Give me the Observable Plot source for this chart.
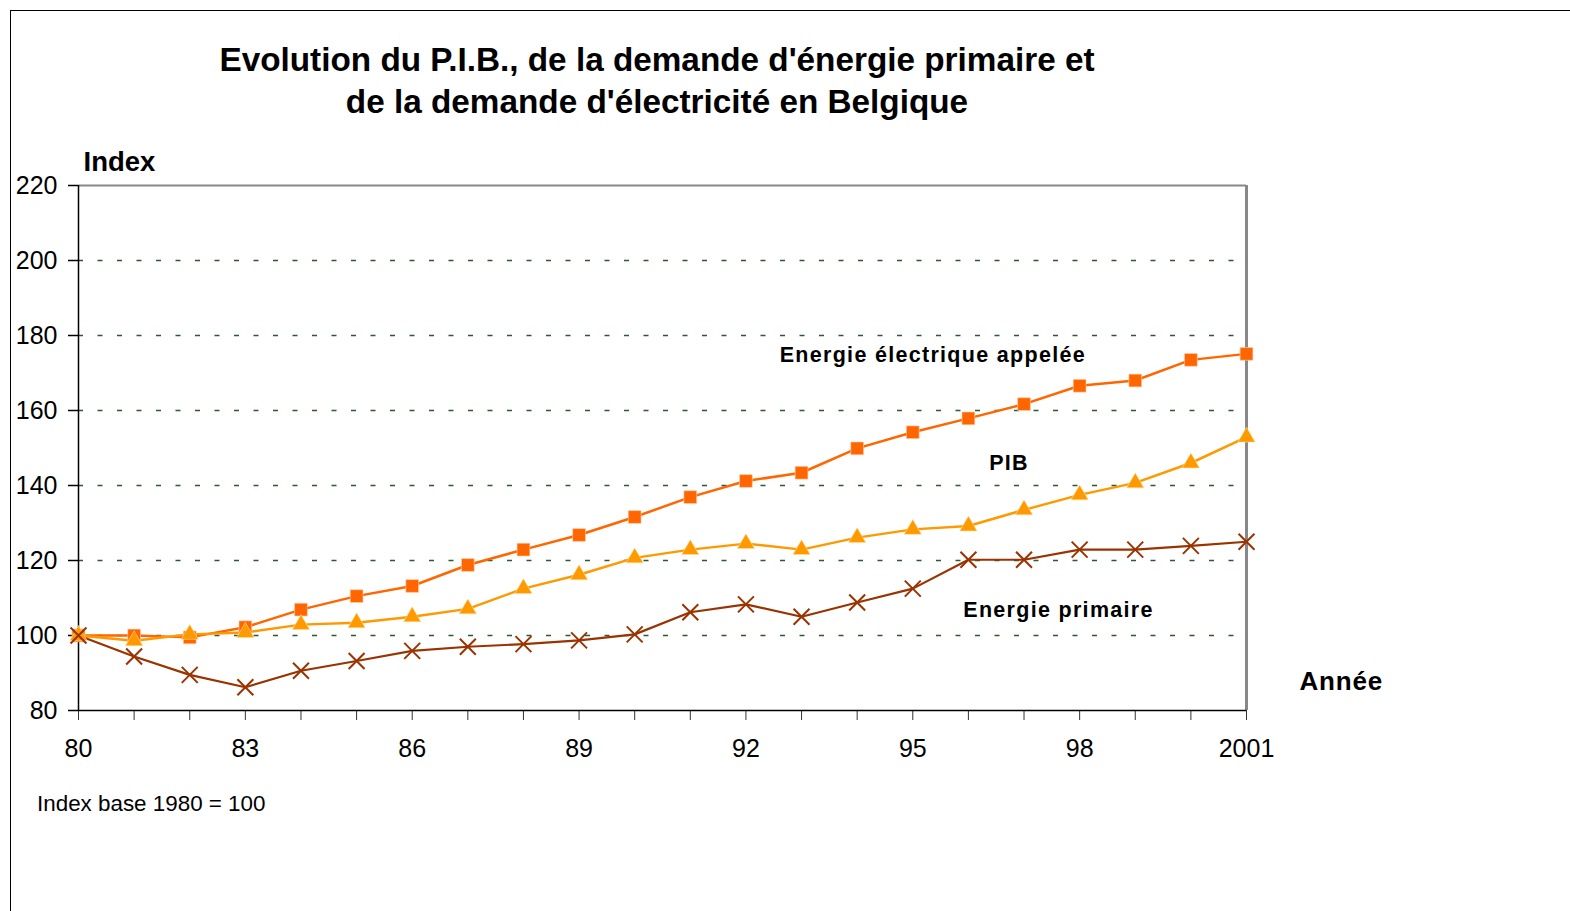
<!DOCTYPE html>
<html>
<head>
<meta charset="utf-8">
<script src="https://cdn.jsdelivr.net/npm/d3@7"></script>
<script src="https://cdn.jsdelivr.net/npm/@observablehq/plot@0.6"></script>
<style>
  html, body { margin: 0; padding: 0; background: #fff; }
  #wrap { position: relative; width: 1570px; height: 911px; overflow: hidden; font-family: "Liberation Sans", Arial, sans-serif; }
  #frame { position: absolute; left: 10px; top: 10px; width: 1600px; height: 1000px; border-left: 1.5px solid #000; border-top: 1.5px solid #000; box-sizing: border-box; pointer-events: none; }
  #title { width: 1314px; height: 150px; box-sizing: border-box; padding-top: 39px; text-align: center; font-weight: bold; font-size: 33.3px; line-height: 42px; color: #000; }
  #chart svg { display: block; }
  #caption { margin-top: 21px; padding-left: 37px; font-size: 22.4px; line-height: 26px; color: #000; }
</style>
</head>
<body>
<div id="wrap">
  <div id="frame"></div>
  <div id="title">Evolution du P.I.B., de la demande d'énergie primaire et<br>de la demande d'électricité en Belgique</div>
  <div id="chart"></div>
  <div id="caption">Index base 1980 = 100</div>
</div>
<script>
const years = [1980, 1981, 1982, 1983, 1984, 1985, 1986, 1987, 1988, 1989, 1990, 1991, 1992, 1993, 1994, 1995, 1996, 1997, 1998, 1999, 2000, 2001];
const electricite = [100, 100, 99.5, 102.2, 106.9, 110.5, 113.2, 118.8, 122.9, 126.8, 131.6, 136.9, 141.2, 143.4, 149.9, 154.2, 157.9, 161.7, 166.6, 168, 173.5, 175.1];
const pib = [100, 98.6, 100.3, 100.8, 102.9, 103.4, 105, 107.1, 112.5, 116.2, 120.7, 122.9, 124.5, 122.9, 126.1, 128.3, 129.2, 133.5, 137.5, 140.7, 146, 152.9];
const primaire = [100, 94.4, 89.5, 86.2, 90.6, 93.2, 95.9, 97, 97.7, 98.7, 100.3, 106.2, 108.3, 105, 108.8, 112.5, 120.2, 120.2, 122.9, 122.9, 123.9, 125];

const xLabelYears = [1980, 1983, 1986, 1989, 1992, 1995, 1998, 2001];
const xTickLabels = ["80", "83", "86", "89", "92", "95", "98", "2001"];
const yTicks = [80, 100, 120, 140, 160, 180, 200, 220];
const gridValues = [100, 120, 140, 160, 180, 200];

const seriesLabels = [
  {text: "Energie électrique appelée", year: 1995.36, value: 174.9},
  {text: "PIB", year: 1996.73, value: 146.1},
  {text: "Energie primaire", year: 1997.62, value: 106.9}
];

const colElec = "#FF6600", colPib = "#FF9900", colPrim = "#993300";

const toRows = vals => years.map((y, i) => ({year: y, value: vals[i]}));
const rowsElec = toRows(electricite), rowsPib = toRows(pib), rowsPrim = toRows(primaire);

const plot = Plot.plot({
  width: 1570,
  height: 620,
  marginLeft: 78,
  marginRight: 324,
  marginTop: 35,
  marginBottom: 60,
  style: {fontFamily: "Liberation Sans, Arial, sans-serif", color: "#000", background: "transparent", overflow: "visible"},
  x: {domain: [1980, 2001]},
  y: {domain: [80, 220]},
  marks: [
    Plot.ruleY(gridValues, {stroke: "#2f5a2f", strokeWidth: 1.5, strokeDasharray: "5,14.5"}),
    Plot.ruleY([220], {stroke: "#888", strokeWidth: 2}),
    Plot.ruleX([2001], {stroke: "#888", strokeWidth: 3}),
    Plot.axisY({ticks: yTicks, tickSize: 10, tickPadding: 11, fontSize: 25, label: null, stroke: "#000", strokeWidth: 1.5}),
    Plot.axisX({ticks: years, tickSize: 10, tickFormat: () => "", label: null, stroke: "#000", strokeOpacity: 0.8}),
    Plot.axisX({ticks: xLabelYears, tickSize: 0, tickPadding: 29, fontSize: 25, label: null, tickFormat: d => xTickLabels[xLabelYears.indexOf(d)]}),
    Plot.ruleX([1980], {stroke: "#000", strokeWidth: 1.5}),
    Plot.ruleY([80], {stroke: "#000", strokeWidth: 1.5}),
    Plot.line(rowsElec, {x: "year", y: "value", stroke: colElec, strokeWidth: 2.5}),
    Plot.line(rowsPib, {x: "year", y: "value", stroke: colPib, strokeWidth: 2.5}),
    Plot.line(rowsPrim, {x: "year", y: "value", stroke: colPrim, strokeWidth: 2.2}),
    Plot.dot(rowsElec, {x: "year", y: "value", symbol: "square", r: 7.2, fill: colElec, stroke: "#ffd0b0", strokeWidth: 0.6}),
    Plot.dot(rowsPib, {x: "year", y: "value", symbol: "triangle", r: 6.4, fill: colPib, stroke: "#ffe0a0", strokeWidth: 0.6}),
    Plot.dot(rowsPrim, {x: "year", y: "value", symbol: "times", r: 7.3, stroke: colPrim, strokeWidth: 2, fill: "none"}),
    Plot.text(seriesLabels, {x: "year", y: "value", text: "text", fontSize: 21.5, fontWeight: "bold", fill: "#000"}),
    Plot.text(["Index"], {frameAnchor: "top-left", text: d => d, dx: 5, dy: -34, textAnchor: "start", fontSize: 27.5, fontWeight: "bold", fill: "#000"}),
    Plot.text(["Année"], {frameAnchor: "bottom-right", text: d => d, dx: 53, dy: -21, textAnchor: "start", fontSize: 26, fontWeight: "bold", fill: "#000"})
  ]
});
// letter spacing for in-chart series labels, as in the reference
const labelTexts = new Set(seriesLabels.map(d => d.text));
d3.select(plot).selectAll("text").each(function() {
  const t = this.textContent;
  if (labelTexts.has(t)) this.style.letterSpacing = "1.3px";
  if (t === "Année") this.style.letterSpacing = "0.8px";
});
document.getElementById("chart").appendChild(plot);
</script>
</body>
</html>
